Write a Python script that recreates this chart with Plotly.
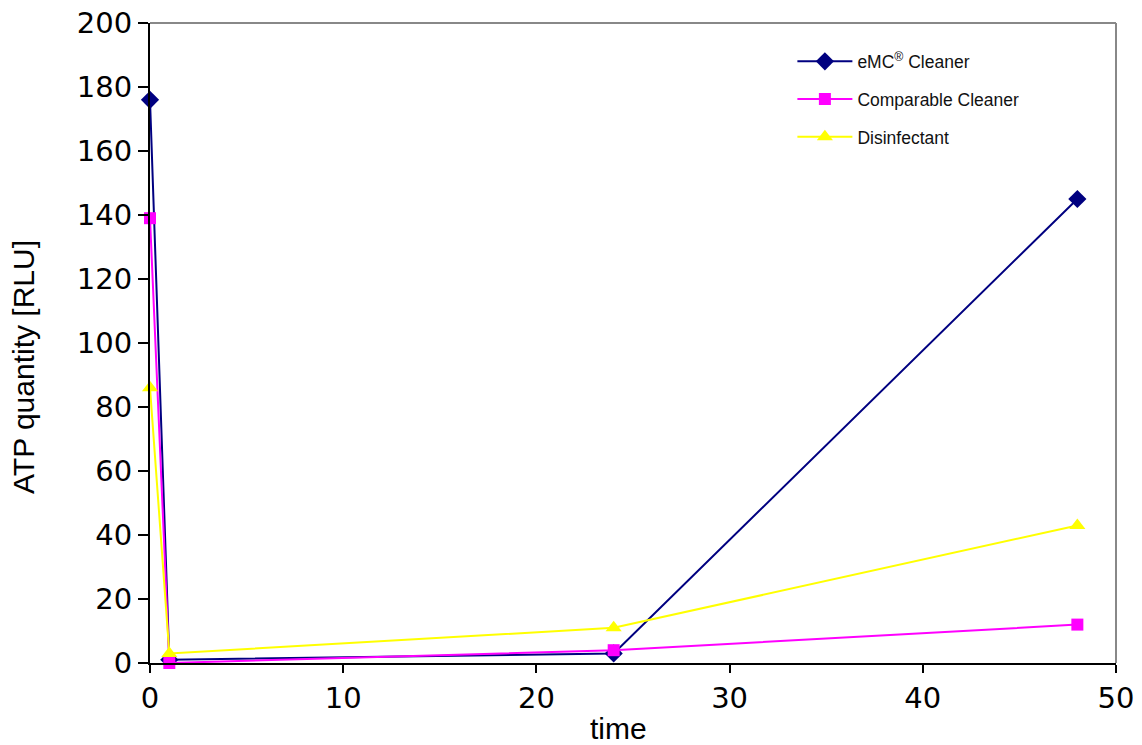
import plotly.graph_objects as go

time = [0, 1, 24, 48]
emc_cleaner = [176, 1, 3, 145]
comparable_cleaner = [139, 0, 4, 12]
disinfectant = [86, 3, 11, 43]

series_names = ["eMC<sup>®</sup> Cleaner", "Comparable Cleaner", "Disinfectant"]
series_values = [emc_cleaner, comparable_cleaner, disinfectant]
colors = ["#000080", "#FF00FF", "#FFFF00"]
symbols = ["diamond", "square", "triangle-up"]
sizes = [14, 12, 14]

fig = go.Figure()
for i, (name, vals) in enumerate(zip(series_names, series_values)):
    fig.add_trace(go.Scatter(
        x=time, y=vals, name=name, mode="lines+markers",
        line=dict(color=colors[i], width=2),
        marker=dict(color=colors[i], symbol=symbols[i], size=sizes[i]),
        cliponaxis=False, legendgroup=str(i),
    ))

tick_font = dict(family="DejaVu Sans", size=29, color="black")
title_font = dict(family="Liberation Sans", size=30, color="black")
fig.update_layout(
    width=1142, height=745,
    margin=dict(l=150, r=26, t=23, b=82),
    paper_bgcolor="white", plot_bgcolor="white",
    showlegend=True,
    legend=dict(x=0.665, y=0.968, xanchor="left", yanchor="top",
                font=dict(family="Liberation Sans", size=17.5, color="#111"),
                traceorder="grouped", tracegroupgap=12,
                bgcolor="rgba(0,0,0,0)", itemwidth=55),
    xaxis=dict(range=[0, 50], dtick=10, tick0=0, showgrid=False, zeroline=False,
               showline=True, linecolor="black", linewidth=2, automargin=False,
               ticks="outside", ticklen=8, tickcolor="black", tickwidth=1.5,
               tickfont=tick_font, ticklabeloverflow="allow"),
    yaxis=dict(range=[0, 200], dtick=20, tick0=0, showgrid=False, zeroline=False,
               showline=True, linecolor="black", linewidth=2, automargin=False,
               ticks="outside", ticklen=10, tickcolor="black", tickwidth=1.5,
               tickfont=tick_font, ticklabeloverflow="allow"),
    annotations=[
        dict(text="time", xref="paper", yref="paper", x=0.4855, y=-0.1016,
             xanchor="center", yanchor="middle", showarrow=False, font=title_font),
        dict(text="ATP quantity [RLU]", xref="paper", yref="paper", x=-0.1315, y=0.4625,
             xanchor="center", yanchor="middle", textangle=-90, showarrow=False,
             font=title_font),
    ],
    shapes=[
        dict(type="line", xref="paper", yref="paper", x0=0, x1=1, y0=1, y1=1,
             line=dict(color="#888888", width=2)),
        dict(type="line", xref="paper", yref="paper", x0=1, x1=1, y0=0, y1=1,
             line=dict(color="#888888", width=2)),
    ],
)

fig.write_html("out.html", config={"displayModeBar": False},
               post_script="document.body.style.margin='0';document.body.style.overflow='hidden';")
